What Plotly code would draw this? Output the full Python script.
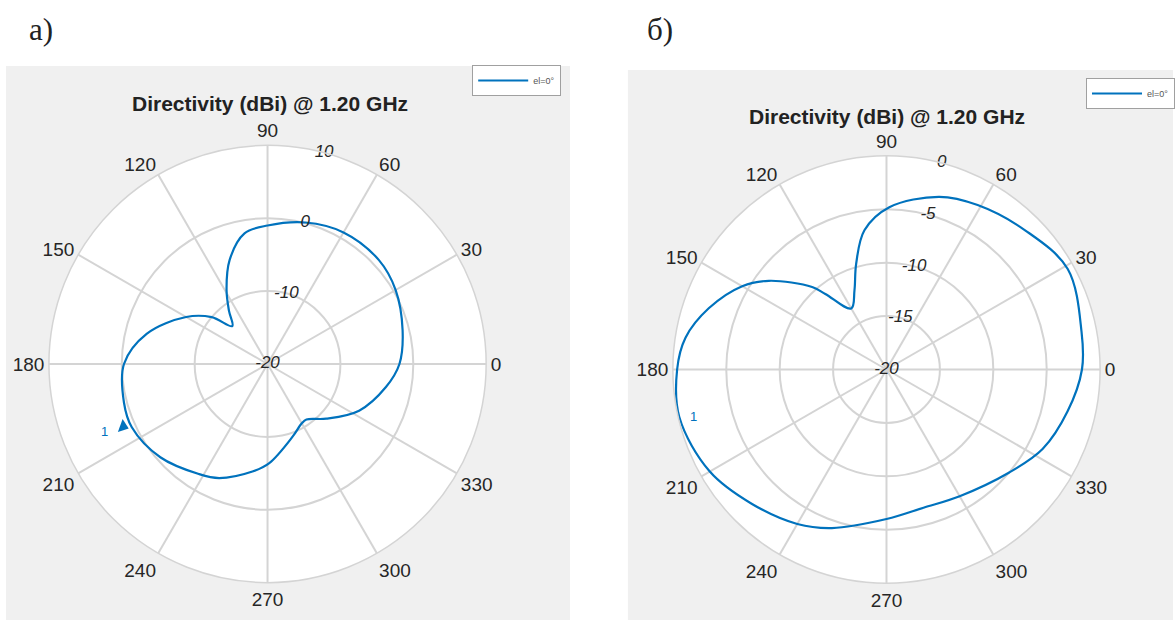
import plotly.graph_objects as go

# ---- data: left pattern (а) ----
theta_a = [0, 14, 30, 43, 60, 75, 90, 100, 110, 119, 126, 133, 140, 150, 166, 180,
           195, 205, 221, 238, 247, 262, 271, 289, 300, 305, 317, 333, 349, 360]
dbi_a = [-1.9, -0.9, 0.3, 0.9, 0.85, 0.1, -1.0, -1.8, -4.8, -8.4, -11.0, -12.9, -10.0,
         -7.1, -2.9, -0.3, 0.4, 0.55, -0.5, -2.2, -3.0, -5.1, -6.4, -9.45, -10.6,
         -10.7, -9.0, -5.9, -3.45, -1.9]

# ---- data: right pattern (б) ----
theta_b = [0, 11, 29, 45, 61, 73, 89, 99, 106, 112, 120, 129, 132, 143, 150, 161, 171,
           180, 193, 210, 225, 240, 251, 270, 285, 300, 320, 333, 347, 360]
dbi_b = [-1.7, -1.4, -0.6, -1.6, -2.4, -3.1, -4.8, -6.8, -9.7, -12.0, -13.4, -10.9,
         -9.6, -6.2, -4.4, -2.4, -0.95, -0.4, -0.1, -0.9, -2.2, -3.3, -4.3, -6.0,
         -6.6, -6.3, -5.0, -3.6, -2.6, -1.7]

ang_ticks = [0, 30, 60, 90, 120, 150, 180, 210, 240, 270, 300, 330]
rticks_a = [-20, -10, 0, 10]
rticks_b = [-20, -15, -10, -5, 0]
r_label_angle = 75
title_text = "Directivity (dBi) @ 1.20 GHz"
legend_name = "el=0°"

# marker annotation "1" (left) and its label
marker_a_theta, marker_a_r = [203.4], [1.6]
label_a_theta, label_a_r = [203.0], [4.3]
label_b_theta, label_b_r = [194.0], [-1.4]

BLUE = "#0072BD"
GRID = "#d4d4d4"
TXT = "#262626"
FONT = "Liberation Sans, Arial, sans-serif"

fig = go.Figure()


def add_panel(sub, leg, theta, r, rticks):
    fig.add_trace(go.Scatterpolar(theta=theta, r=r, mode="lines", name=legend_name,
                                  line=dict(color=BLUE, width=2.2, shape="spline", smoothing=1.0),
                                  subplot=sub, legend=leg))
    # radial tick labels centred on the 75° spoke
    fig.add_trace(go.Scatterpolar(theta=[r_label_angle] * len(rticks), r=rticks, mode="text",
                                  text=[str(t) for t in rticks], textposition="middle center",
                                  textfont=dict(color=TXT, size=17, family=FONT, style="italic"),
                                  subplot=sub, showlegend=False, hoverinfo="skip"))


add_panel("polar", "legend", theta_a, dbi_a, rticks_a)
fig.add_trace(go.Scatterpolar(theta=marker_a_theta, r=marker_a_r, mode="markers",
                              marker=dict(symbol="triangle-right", size=12, color=BLUE, angle=20),
                              subplot="polar", showlegend=False))
fig.add_trace(go.Scatterpolar(theta=label_a_theta, r=label_a_r, mode="text", text=["1"],
                              textfont=dict(color=BLUE, size=13, family=FONT),
                              subplot="polar", showlegend=False))

add_panel("polar2", "legend2", theta_b, dbi_b, rticks_b)
fig.add_trace(go.Scatterpolar(theta=label_b_theta, r=label_b_r, mode="text", text=["1"],
                              textfont=dict(color=BLUE, size=13, family=FONT),
                              subplot="polar2", showlegend=False))


def polar_cfg(domx, domy, rng, rticks):
    return dict(
        domain=dict(x=domx, y=domy),
        bgcolor="white",
        angularaxis=dict(rotation=0, direction="counterclockwise", tickmode="array",
                         tickvals=ang_ticks, ticktext=[str(t) for t in ang_ticks],
                         showline=True, linecolor=GRID, linewidth=1.5,
                         gridcolor=GRID, gridwidth=1.5, ticks="",
                         tickfont=dict(size=19, color=TXT, family=FONT)),
        radialaxis=dict(range=rng, tickmode="array", tickvals=rticks,
                        showticklabels=False, angle=75,
                        showline=False, ticks="", gridcolor=GRID, gridwidth=1.5),
    )


W, H = 1175, 620
fig.update_layout(
    width=W, height=H,
    margin=dict(l=0, r=0, t=0, b=0),
    paper_bgcolor="white",
    polar=polar_cfg([49 / W, 487 / W], [1 - 583 / H, 1 - 145 / H], [-20, 10], rticks_a),
    polar2=polar_cfg([674 / W, 1102 / W], [1 - 583.5 / H, 1 - 155.5 / H], [-20, 0], rticks_b),
    legend=dict(x=473 / W, y=1 - 65 / H, xanchor="left", yanchor="top",
                bgcolor="white", bordercolor="#a0a0a0", borderwidth=1,
                font=dict(size=9, color="#555555", family=FONT), itemwidth=50,
                tracegroupgap=0),
    legend2=dict(x=1088 / W, y=1 - 78 / H, xanchor="left", yanchor="top",
                 bgcolor="white", bordercolor="#a0a0a0", borderwidth=1,
                 font=dict(size=9, color="#555555", family=FONT), itemwidth=50,
                 tracegroupgap=0),
    shapes=[
        dict(type="rect", xref="paper", yref="paper", x0=6 / W, x1=571 / W,
             y0=0, y1=1 - 66 / H, fillcolor="#f0f0f0", line_width=0, layer="below"),
        dict(type="rect", xref="paper", yref="paper", x0=629 / W, x1=1,
             y0=0, y1=1 - 70 / H, fillcolor="#f0f0f0", line_width=0, layer="below"),
    ],
    annotations=[
        dict(text="а)", x=41 / W, y=1 - 30 / H, xref="paper", yref="paper",
             xanchor="center", yanchor="middle", showarrow=False,
             font=dict(size=31, family="Liberation Serif, DejaVu Serif, serif", color="#222")),
        dict(text="б)", x=661 / W, y=1 - 30 / H, xref="paper", yref="paper",
             xanchor="center", yanchor="middle", showarrow=False,
             font=dict(size=31, family="Liberation Serif, DejaVu Serif, serif", color="#222")),
        dict(text="<b>" + title_text + "</b>", x=270 / W, y=1 - 104 / H, xref="paper", yref="paper",
             xanchor="center", yanchor="middle", showarrow=False,
             font=dict(size=21, family=FONT, color="#222")),
        dict(text="<b>" + title_text + "</b>", x=889 / W, y=1 - 116 / H, xref="paper", yref="paper",
             xanchor="center", yanchor="middle", showarrow=False,
             font=dict(size=21, family=FONT, color="#222")),
    ],
)

fig.write_html("out.html", config={"displayModeBar": False},
               post_script="document.body.style.margin='0';")
